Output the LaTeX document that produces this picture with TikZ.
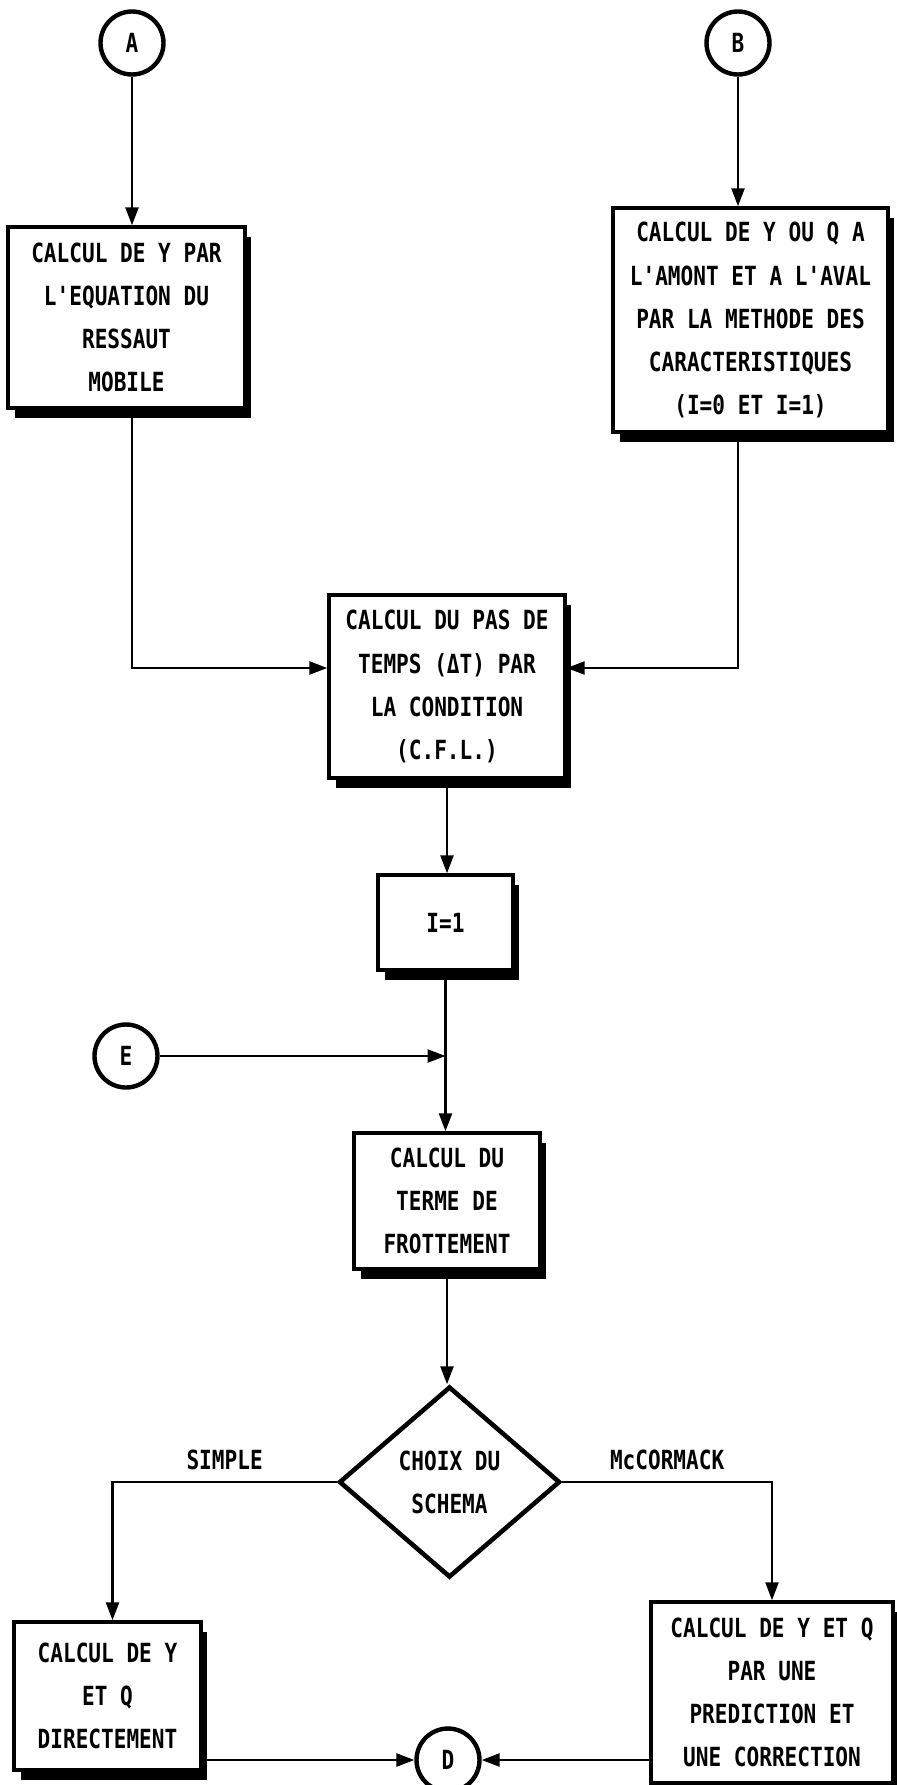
\documentclass[tikz,border=0pt]{standalone}
\usepackage{fontspec}
\usepackage{tikz}
\usetikzlibrary{arrows.meta,positioning,calc,shapes.geometric,shadows}
\newfontfamily\dotfont[FakeStretch=0.8]{DejaVu Sans Mono}
\tikzset{arr/.style={-{Triangle[length=3.6mm,width=2.6mm]},line width=1.4pt,draw=black},
  txt/.style={font={\dotfont\bfseries\fontsize{15}{24.5}\selectfont},text=black,align=center},
  box/.style={txt,draw=black,line width=2pt,fill=white,inner sep=2pt,
    drop shadow={shadow xshift=1.3mm,shadow yshift=-2mm,fill=black,opacity=1}},
  conn/.style={txt,circle,draw=black,line width=2.5pt,fill=white,minimum size=1.26cm,inner sep=0pt},
  choice/.style={txt,diamond,draw=black,line width=2.6pt,fill=white,minimum width=4.42cm,minimum height=3.82cm,inner sep=0pt},
  lbl/.style={txt,above=3pt}}

\begin{document}
\begin{tikzpicture}[x=0.02cm,y=-0.02cm]
\useasboundingbox (0,0) rectangle (896,1785);
% connecteurs d'entree
\node[conn] (A) at (132,43) {A};
\node[conn] (B) at (738,43) {B};
\node[conn] (E) at (126,1056) {E};
\node[conn] (D) at (448,1760) {D};
% calculs
\node[box,minimum width=4.74cm,minimum height=3.62cm] (mobile) at (126.5,317.5) {CALCUL DE Y PAR\\L'EQUATION DU\\RESSAUT\\MOBILE};
\node[box,minimum width=5.5cm,minimum height=4.48cm] (caract) at (750.5,320) {CALCUL DE Y OU Q A\\L'AMONT ET A L'AVAL\\PAR LA METHODE DES\\CARACTERISTIQUES\\(I=0 ET I=1)};
\node[box,minimum width=4.72cm,minimum height=3.66cm] (cfl) at (447,686.5) {CALCUL DU PAS DE\\TEMPS (ΔT) PAR\\LA CONDITION\\(C.F.L.)};
\node[box,minimum width=2.7cm,minimum height=1.9cm] (init) at (445.5,922.5) {I=1};
\node[box,minimum width=3.72cm,minimum height=2.72cm] (frott) at (447,1201) {CALCUL DU\\TERME DE\\FROTTEMENT};
\node[choice] (choix) at (449.5,1482) {CHOIX DU\\SCHEMA};
\node[box,minimum width=3.74cm,minimum height=2.96cm] (direct) at (107.5,1696) {CALCUL DE Y\\ET Q\\DIRECTEMENT};
\node[box,minimum width=4.84cm,minimum height=3.62cm] (mcc) at (772,1692.5) {CALCUL DE Y ET Q\\PAR UNE\\PREDICTION ET\\UNE CORRECTION};
% liaisons
\draw[arr] (A.south) -- (A.south |- mobile.north);
\draw[arr] (B.south) -- (B.south |- caract.north);
\draw[arr] (mobile.south -| A) |- ([yshift=0.37cm]cfl.west);
\draw[arr] (caract.south -| B) |- ([yshift=0.37cm]cfl.east);
\draw[arr] (cfl.south) -- (cfl.south |- init.north);
\draw[arr] (init.south) -- (init.south |- frott.north);
\draw[arr] (E.east) -- (E.east -| init.south);
\draw[arr] (frott.south) -- (frott.south |- choix.north);
\draw[arr] (choix.west) -| node[lbl,pos=0.25] {SIMPLE} ([xshift=0.1cm]direct.north);
\draw[arr] (choix.east) -| node[lbl,pos=0.25] {McCORMACK} (mcc.north);
\draw[arr] (D.west -| direct.east) -- (D.west);
\draw[arr] (D.east -| mcc.west) -- (D.east);
\end{tikzpicture}
\end{document}
